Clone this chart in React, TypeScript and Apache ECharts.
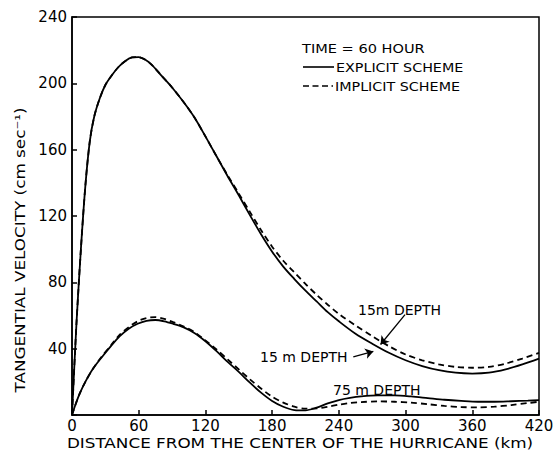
import React, { useEffect, useRef } from "react";
import * as echarts from "echarts";

const FONT = '"DejaVu Sans", sans-serif';

// axis ticks
const xTicks = [0, 60, 120, 180, 240, 300, 360, 420];
const yTicks = [0, 40, 80, 120, 160, 200, 240];

// texts
const xTitle = "DISTANCE FROM THE CENTER OF THE HURRICANE (km)";
const yTitle = "TANGENTIAL VELOCITY (cm sec\u207B\u00B9)";
const timeLabel = "TIME = 60 HOUR";
const schemeNames = ["EXPLICIT SCHEME", "IMPLICIT SCHEME"];

// 15 m depth, explicit scheme (km, cm/s)
const upperExplicitKm = [0, 4, 8, 12, 16, 20, 25, 30, 36, 42, 48, 54, 60, 66, 72, 80, 90, 100, 110, 120, 130, 140, 150, 160, 170, 180, 190, 200, 210, 220, 230, 240, 255, 270, 285, 300, 315, 330, 345, 360, 375, 390, 405, 420];
const upperExplicitVel = [0, 55, 100, 138, 165, 180, 191, 199, 205, 210, 213.5, 215.6, 215.8, 214.2, 211, 205, 197.5, 189, 179.5, 168, 156, 144, 132.5, 120.5, 109, 98.5, 89.5, 82, 75, 68.5, 62, 56.5, 49, 43, 37.5, 33, 29.5, 27, 25.5, 25, 25.5, 27.5, 30.5, 34];

// 15 m depth, implicit scheme
const upperImplicitKm = [0, 4, 8, 12, 16, 20, 25, 30, 36, 42, 48, 54, 60, 66, 72, 80, 90, 100, 110, 120, 130, 140, 150, 160, 170, 180, 190, 200, 210, 220, 230, 240, 255, 270, 285, 300, 315, 330, 345, 360, 375, 390, 405, 420];
const upperImplicitVel = [0, 55, 100, 138, 165, 180, 191, 199, 205, 210, 213.5, 215.6, 215.8, 214.2, 211, 205, 197.5, 189, 179.5, 168, 156, 144.5, 133.5, 122.5, 111.5, 101.5, 93, 86, 79, 72.5, 66.5, 61, 54, 47.5, 41.5, 36.5, 33, 30.5, 29, 28.5, 29, 31, 34, 37.5];

// 75 m depth, explicit scheme
const lowerExplicitKm = [0, 3, 7, 12, 19, 27, 35, 43, 51, 59, 67, 75, 83, 91, 100, 110, 120, 130, 140, 150, 160, 170, 180, 190, 200, 210, 220, 230, 240, 250, 260, 275, 290, 305, 320, 335, 350, 365, 380, 395, 410, 420];
const lowerExplicitVel = [0, 6, 13, 20, 28, 35, 41.5, 47.5, 52, 55, 56.8, 57.3, 56.5, 55, 53, 49.5, 44.5, 38.5, 32, 26, 19.5, 13.5, 8.5, 5, 3, 2.8, 4.5, 7, 9, 10.3, 11.2, 11.8, 11.8, 11.2, 10.2, 9.2, 8.5, 8, 8, 8.3, 8.7, 9];

// 75 m depth, implicit scheme
const lowerImplicitKm = [0, 3, 7, 12, 19, 27, 35, 43, 51, 59, 67, 75, 83, 91, 100, 110, 120, 130, 140, 150, 160, 170, 180, 190, 200, 210, 220, 230, 240, 250, 260, 275, 290, 305, 320, 335, 350, 365, 380, 395, 410, 420];
const lowerImplicitVel = [0, 6, 13, 20, 28, 35.5, 42, 48.5, 53, 56.5, 58.5, 59, 58, 56, 53.5, 50, 45, 39.5, 33.5, 27.5, 21.5, 16, 11, 7.5, 5, 3.8, 4, 5, 6.2, 7.2, 7.8, 8.2, 8, 7.5, 6.5, 5.5, 4.8, 4.6, 5, 6, 7.2, 8];

const zip = (xs: number[], ys: number[]) => xs.map((x, i) => [x, ys[i]]);

export default function App() {
  const ref = useRef<HTMLDivElement>(null);
  useEffect(() => {
    const chart = echarts.init(ref.current!, null, { renderer: "svg" });
    const solid = { color: "#000", width: 1.8, type: "solid" as const };
    const dashed = { color: "#000", width: 1.8, type: [6, 4] as any };
    const txt = (
      text: string,
      x: number,
      y: number,
      size: number,
      extra: any = {},
      styleExtra: any = {}
    ) => ({
      type: "text",
      x,
      y,
      ...extra,
      style: { text, font: `${size}px ${FONT}`, fill: "#000", verticalAlign: "middle", ...styleExtra },
    });
    const lineSeries = (name: string, xs: number[], ys: number[], style: any, z: number) => ({
      name,
      type: "line",
      data: zip(xs, ys),
      smooth: 0.3,
      symbol: "none",
      lineStyle: style,
      z,
    });
    chart.setOption({
      animation: false,
      backgroundColor: "#fff",
      grid: {
        left: 72,
        right: 18,
        top: 17,
        bottom: 42,
        show: true,
        borderColor: "#000",
        borderWidth: 1.5,
        backgroundColor: "transparent",
      },
      xAxis: {
        type: "value",
        min: xTicks[0],
        max: xTicks[xTicks.length - 1],
        interval: 60,
        axisLine: { lineStyle: { color: "#000", width: 1.5 } },
        axisTick: { inside: true, length: 5, lineStyle: { color: "#000", width: 1.5 } },
        axisLabel: { fontFamily: FONT, fontSize: 15, color: "#000", margin: 3 },
        splitLine: { show: false },
      },
      yAxis: {
        type: "value",
        min: yTicks[0],
        max: yTicks[yTicks.length - 1],
        interval: 40,
        axisLine: { show: true, lineStyle: { color: "#000", width: 1.5 } },
        axisTick: { show: true, inside: true, length: 5, lineStyle: { color: "#000", width: 1.5 } },
        axisLabel: {
          fontFamily: FONT,
          fontSize: 15,
          color: "#000",
          margin: 5,
          formatter: (v: number) => (v === 0 ? "" : String(v)),
        },
        splitLine: { show: false },
      },
      graphic: [
        // legend
        txt(timeLabel, 302, 48, 13, { scaleX: 1.12 }),
        {
          type: "line",
          shape: { x1: 303, y1: 67, x2: 334, y2: 67 },
          style: { stroke: "#000", lineWidth: 1.6 },
        },
        txt(schemeNames[0], 336, 67, 13, { scaleX: 1.1 }),
        {
          type: "line",
          shape: { x1: 303, y1: 86, x2: 333, y2: 86 },
          style: { stroke: "#000", lineWidth: 1.6, lineDash: [6, 3.5] },
        },
        txt(schemeNames[1], 335, 86, 13, { scaleX: 1.1 }),
        // axis titles
        txt(xTitle, 300, 443, 14, { scaleX: 1.2 }, { align: "center" }),
        txt(yTitle, 20, 250, 14, { rotation: Math.PI / 2, scaleX: 1.2 }, { align: "center" }),
        // curve labels
        txt("15m DEPTH", 358, 310, 14),
        txt("15 m DEPTH", 260, 357, 14),
        txt("75 m DEPTH", 333, 390, 14),
      ],
      series: [
        {
          ...lineSeries(schemeNames[0], upperExplicitKm, upperExplicitVel, solid, 3),
          markLine: {
            silent: true,
            animation: false,
            symbol: ["none", "arrow"],
            symbolSize: 8,
            label: { show: false },
            lineStyle: { color: "#000", width: 1.3, type: "solid" },
            data: [
              [{ coord: [299.5, 60.5] }, { coord: [277.5, 42.5] }],
              [{ coord: [253, 35] }, { coord: [271, 38.3] }],
            ],
          },
        },
        lineSeries(schemeNames[1], upperImplicitKm, upperImplicitVel, dashed, 2),
        lineSeries(schemeNames[0], lowerExplicitKm, lowerExplicitVel, solid, 3),
        lineSeries(schemeNames[1], lowerImplicitKm, lowerImplicitVel, dashed, 2),
      ],
    });
    return () => chart.dispose();
  }, []);
  return (
    <div
      ref={ref}
      style={{ position: "fixed", left: 0, top: 0, width: 557, height: 457, background: "#fff" }}
    />
  );
}
